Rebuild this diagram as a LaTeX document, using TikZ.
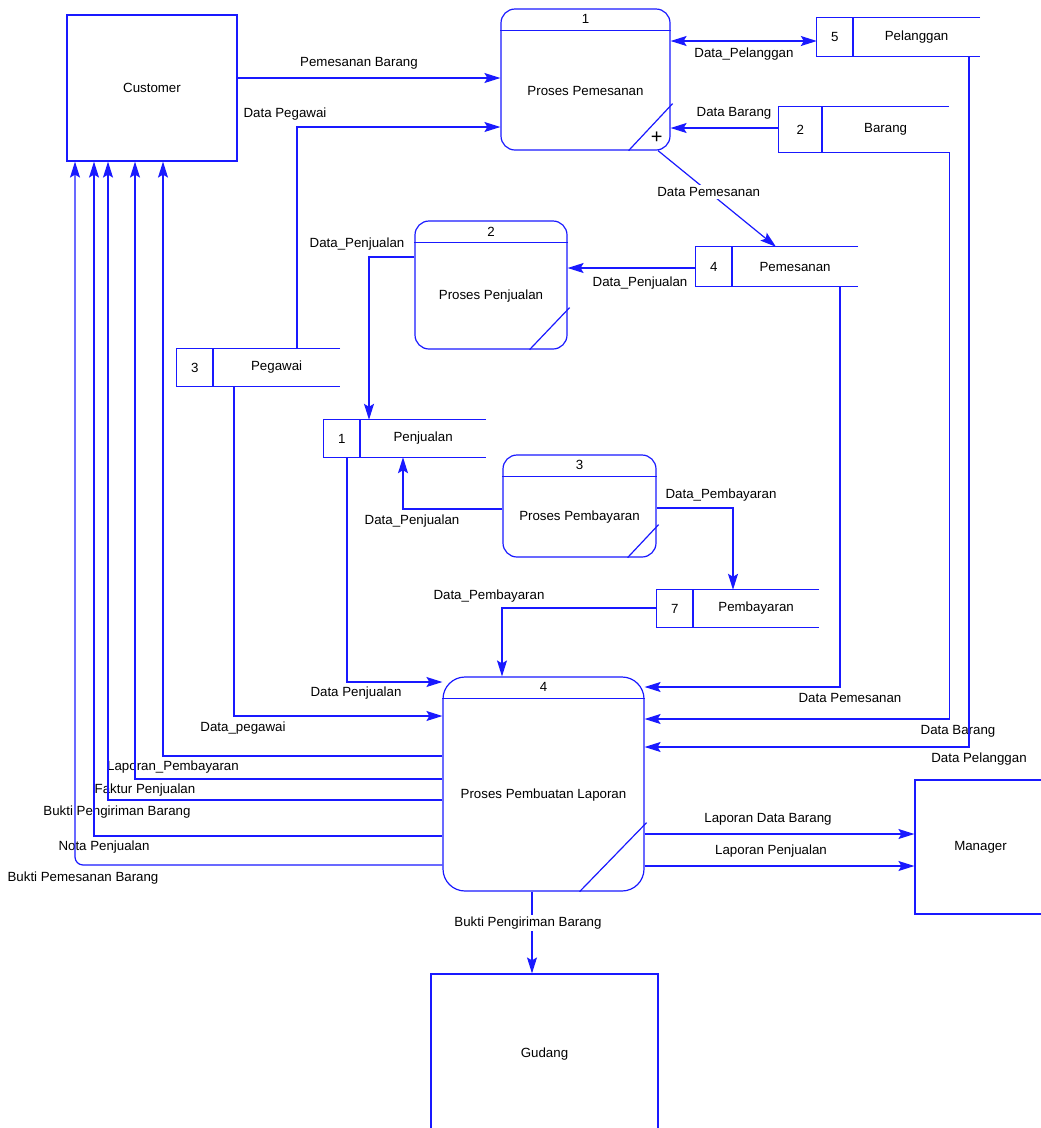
\documentclass[tikz,border=0pt]{standalone}
\usepackage{fontspec}
\setmainfont{Liberation Sans}
\usetikzlibrary{arrows.meta,fit,calc}
\definecolor{dfdblue}{RGB}{25,25,255}

% process: name, left, top, right, bottom, number, text, diag x, diag y
\newcommand\dproc[9]{%
  \node[proc, fit={(#2,#3) (#4,#5)}] (#1) {};
  \draw[dline] ([yshift=-22pt]#1.north west) -- ([yshift=-22pt]#1.north east);
  \node[txt] at ([yshift=-11pt]#1.north) {#6};
  \node[txt] at ($([yshift=-22pt]#1.north)!0.5!(#1.south)$) {#7};
  \draw[dline] ([xshift=-#8pt]#1.south east) -- ([xshift=2pt,yshift=#9pt]#1.south east);
}
% data store: name, left, top, right, bottom, divider x, number, text
\newcommand\dstore[8]{%
  \node[fit={(#2,#3) (#4,#5)}, inner sep=0pt] (#1) {};
  \draw[dline] (#1.north east) -- (#1.north west) -- (#1.south west) -- (#1.south east);
  \draw[dline] (#1.north west -| #6,0) -- (#1.south west -| #6,0);
  \node[txt] at ($(#1.west)!0.5!(#1.west -| #6,0)$) {#7};
  \node[txt] at ($(#1.east)!0.5!(#1.east -| #6,0)$) {#8};
}

\begin{document}
\begin{tikzpicture}[x=1pt,y=-1pt,
  dline/.style={draw=dfdblue,line width=1.2pt},
  txt/.style={font=\fontsize{13.3}{15}\selectfont,inner sep=1pt},
  lbl/.style={txt},
  ent/.style={dline,rectangle,inner sep=0pt,font=\fontsize{13.3}{15}\selectfont},
  proc/.style={dline,rectangle,rounded corners=14pt,inner sep=0pt},
  flow/.style={dline,-{Stealth[length=16pt,width=10pt,inset=3pt]}},
  flow2/.style={dline,{Stealth[length=16pt,width=10pt,inset=3pt]}-{Stealth[length=16pt,width=10pt,inset=3pt]}}]
  \useasboundingbox (0,0) rectangle (1041,1128);

  % external entities
  \node[ent, minimum width=170pt, minimum height=146pt] (cust) at (152,88) {Customer};
  \node[ent, minimum width=131pt, minimum height=134pt] (mgr) at (980.5,847) {Manager};
  \node[ent, minimum width=227pt, minimum height=160pt] (gudang) at (544.5,1054) {Gudang};

  % processes
  \dproc{p1}{501}{9}{670}{150}{1}{Proses Pemesanan}{42}{47}
  \node[txt, font=\fontsize{20}{20}\selectfont] at ([xshift=-14pt,yshift=13pt]p1.south east) {+};
  \dproc{p2}{415}{221}{567}{349}{2}{Proses Penjualan}{38}{42}
  \dproc{p3}{503}{455}{656}{557}{3}{Proses Pembayaran}{29}{33}
  \begin{scope}[proc/.append style={rounded corners=22pt}]
    \dproc{p4}{443}{677}{644}{891}{4}{Proses Pembuatan Laporan}{65}{69}
  \end{scope}

  % data stores
  \dstore{s5}{817}{18}{980}{56}{853}{5}{Pelanggan}
  \dstore{s2}{779}{107}{949}{152}{822}{2}{Barang}
  \dstore{s4}{696}{247}{858}{286}{732}{4}{Pemesanan}
  \dstore{s3}{177}{349}{340}{386}{213}{3}{Pegawai}
  \dstore{s1}{324}{420}{486}{457}{360}{1}{Penjualan}
  \dstore{s7}{657}{590}{819}{627}{693}{7}{Pembayaran}

  % flows around proses pemesanan
  \draw[flow] (cust.east |- 0,78) -- (p1.west |- 0,78) node[lbl] at (359,63) {Pemesanan Barang};
  \draw[flow] (s3.north -| 297,0) |- (p1.west |- 0,127) node[lbl] at (285,114) {Data Pegawai};
  \draw[flow2] (p1.east |- 0,41) -- (s5.west |- 0,41) node[lbl] at (744,54) {Data\_Pelanggan};
  \draw[flow] (s2.west |- 0,128) -- (p1.east |- 0,128) node[lbl] at (734,113) {Data Barang};
  \draw[flow] (p1.south -| 658,0) -- (s4.north -| 776,0) node[lbl, fill=white, inner sep=2pt, pos=0.43] {Data Pemesanan};

  % flows around penjualan / pembayaran
  \draw[flow] (s4.west |- 0,268) -- (p2.east |- 0,268) node[lbl] at (640,283) {Data\_Penjualan};
  \draw[flow] (p2.west |- 0,257) -| (s1.north -| 369,0) node[lbl] at (357,244) {Data\_Penjualan};
  \draw[flow] (p3.west |- 0,509) -| (s1.south -| 403,0) node[lbl] at (412,521) {Data\_Penjualan};
  \draw[flow] (p3.east |- 0,508) -| (s7.north -| 733,0) node[lbl] at (721,495) {Data\_Pembayaran};
  \draw[flow] (s7.west |- 0,608) -| (p4.north -| 502,0) node[lbl] at (489,596) {Data\_Pembayaran};

  % into proses pembuatan laporan
  \draw[flow] (s1.south -| 347,0) |- (p4.west |- 0,682) node[lbl] at (356,693) {Data Penjualan};
  \draw[flow] (s3.south -| 234,0) |- (p4.west |- 0,716) node[lbl] at (243,728) {Data\_pegawai};
  \draw[flow] (s4.south -| 840,0) |- (p4.east |- 0,687) node[lbl] at (850,698) {Data Pemesanan};
  \draw[flow] (s2.south east) |- (p4.east |- 0,719) node[lbl] at (958,731) {Data Barang};
  \draw[flow] (s5.south -| 969,0) |- (p4.east |- 0,747) node[lbl] at (979,759) {Data Pelanggan};

  % back to customer
  \draw[flow] (p4.west |- 0,756) -| (cust.south -| 163,0) node[lbl] at (173,767) {Laporan\_Pembayaran};
  \draw[flow] (p4.west |- 0,779) -| (cust.south -| 135,0) node[lbl] at (145,790) {Faktur Penjualan};
  \draw[flow] (p4.west |- 0,800) -| (cust.south -| 108,0) node[lbl] at (117,812) {Bukti Pengiriman Barang};
  \draw[flow] (p4.west |- 0,836) -| (cust.south -| 94,0) node[lbl] at (104,847) {Nota Penjualan};
  \draw[flow, rounded corners=8pt] (p4.west |- 0,865) -| (cust.south -| 75,0) node[lbl] at (83,878) {Bukti Pemesanan Barang};

  % out to manager and gudang
  \draw[flow] (p4.east |- 0,834) -- (mgr.west |- 0,834) node[lbl] at (768,819) {Laporan Data Barang};
  \draw[flow] (p4.east |- 0,866) -- (mgr.west |- 0,866) node[lbl] at (771,851) {Laporan Penjualan};
  \draw[flow] (p4.south -| 532,0) -- (gudang.north -| 532,0) node[lbl, fill=white, inner sep=2pt] at (528,923) {Bukti Pengiriman Barang};
\end{tikzpicture}
\end{document}
